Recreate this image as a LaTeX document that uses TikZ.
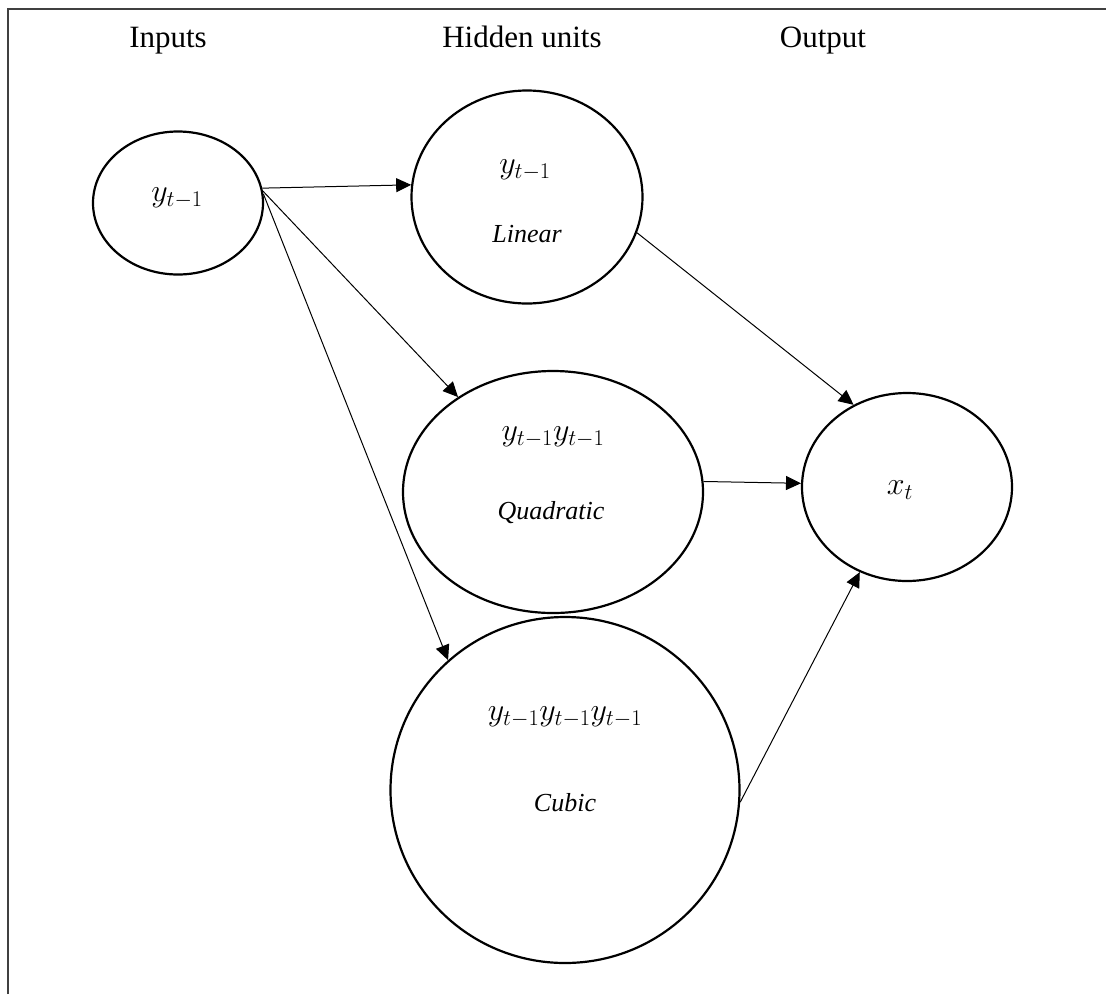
\RequirePackage{fix-cm}
\documentclass[tikz,border=0pt]{standalone}
\usepackage{fontspec}
\setmainfont{Liberation Serif}
\usetikzlibrary{shapes.geometric,arrows.meta}
\begin{document}
\begin{tikzpicture}[x=1pt,y=-1pt,
  unit/.style={draw,ellipse,line width=2.2pt,inner sep=0pt},
  head/.style={font=\fontsize{31}{37}\selectfont,anchor=base},
  mth/.style={font=\fontsize{32}{38}\selectfont},
  kind/.style={font=\fontsize{26}{31}\selectfont\itshape,anchor=base},
  conn/.style={line width=1pt,-{Triangle[length=15pt,width=14pt]}},
  frameline/.style={line width=2pt,draw=black!75}]
\useasboundingbox (0,0) rectangle (1106,994);
\draw[frameline] (8,994) -- (8,9) -- (1106,9);
\node[head] (hin) at (168,47) {Inputs};
\node[head] (hhid) at (522,47) {Hidden units};
\node[head] (hout) at (823,47) {Output};
\node[unit,minimum width=170pt,minimum height=143pt] (in) at (178,203) {};
\node[unit,minimum width=231pt,minimum height=213pt] (lin) at (527,197) {};
\node[unit,minimum width=300pt,minimum height=242pt] (quad) at (553,492) {};
\node[unit,minimum width=349pt,minimum height=346pt] (cub) at (565,790) {};
\node[unit,minimum width=210pt,minimum height=188pt] (out) at (907,487) {};
\node[mth] (tin) at (177,198) {$y_{t-1}$};
\node[mth] (tlin) at (525,170) {$y_{t-1}$};
\node[kind] (klin) at (527,242) {Linear};
\node[mth] (tquad) at (553,437) {$y_{t-1}y_{t-1}$};
\node[kind] (kquad) at (551,519) {Quadratic};
\node[mth] (tcub) at (565,717) {$y_{t-1}y_{t-1}y_{t-1}$};
\node[kind] (kcub) at (565,811) {Cubic};
\node[mth] (tout) at (900,490) {$x_t$};
\draw[conn] (in.10) -- (lin.174.5);
\draw[conn] (in.8) -- (quad.135);
\draw[conn] (in.6) -- (cub.132.5);
\draw[conn] (lin.-18.6) -- (out.123.7);
\draw[conn] (quad.4.6) -- (out.178);
\draw[conn] (cub.-4.6) -- (out.-119.4);
\end{tikzpicture}
\end{document}
